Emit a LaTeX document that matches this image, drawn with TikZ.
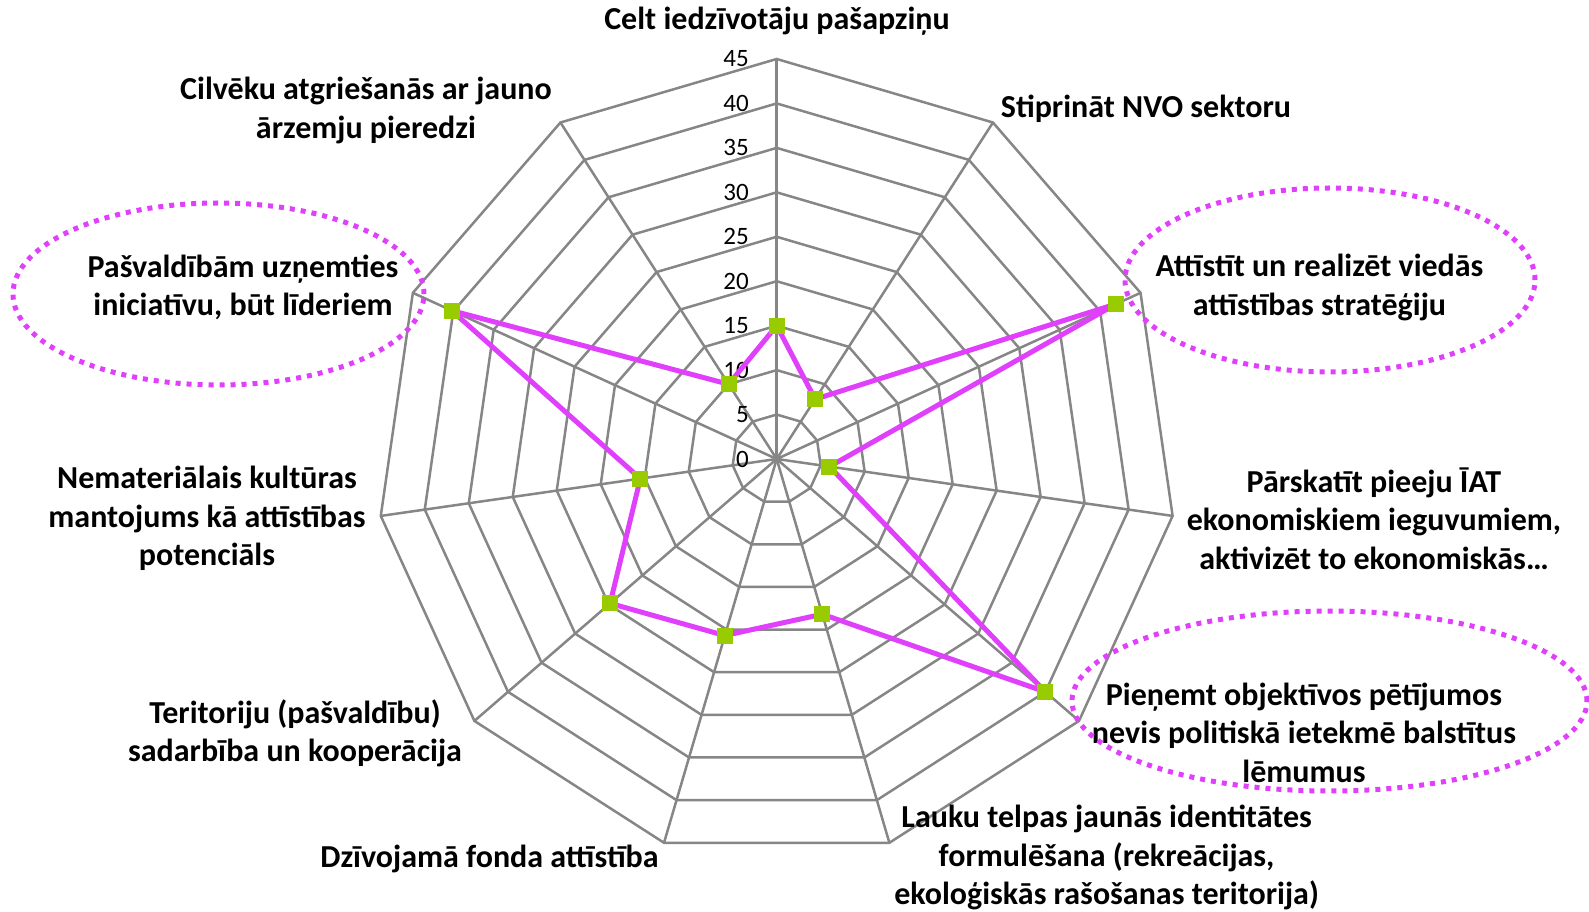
\documentclass[tikz,border=0pt]{standalone}
\usepackage{fontspec}
\setmainfont{Carlito}
\usetikzlibrary{shapes.geometric}
\definecolor{gridgray}{HTML}{868686}
\definecolor{lineMag}{HTML}{E040FB}
\definecolor{markGreen}{HTML}{99CC00}
\begin{document}
\begin{tikzpicture}[x=1pt,y=1pt,
  gridline/.style={draw=gridgray,line width=2.5pt,line join=miter},
  dataline/.style={draw=lineMag,line width=5pt,line join=round},
  marker/.style={rectangle,fill=markGreen,minimum size=16pt,inner sep=0pt},
  ticklabel/.style={anchor=east,inner sep=0pt,font=\fontsize{25}{29}\selectfont},
  catlabel/.style={align=center,inner sep=0pt,font=\bfseries\fontsize{32}{38.5}\selectfont},
  dotring/.style={ellipse,draw=lineMag,line width=5pt,dash pattern=on 5pt off 6pt,inner sep=0pt}]
\useasboundingbox (-776.7,-453) rectangle (812.3,459);
\coordinate (c) at (0,0);
% grid rings
\foreach \k in {1,...,9}{
  \draw[gridline] (90:{\k*44.4444}) \foreach \i in {1,...,10}{ -- ({90-\i*32.72727}:{\k*44.4444})} -- cycle;
}
% spokes
\foreach \i in {0,...,10}{
  \coordinate (o\i) at ({90-\i*32.72727}:400);
  \draw[gridline] (c) -- (o\i);
}
% tick labels
\foreach \k in {0,...,9}{
  \pgfmathtruncatemacro{\val}{\k*5}
  \node[ticklabel] (t\k) at (-27.7,{\k*44.4444}) {\val};
}
% data
\foreach \v [count=\i from 0] in {15,8,42,6,40,18.2,20.7,24.8,15.5,40.2,10}{
  \coordinate (p\i) at ({90-\i*32.72727}:{\v*8.88889});
}
\draw[dataline] (p0) -- (p1) -- (p2) -- (p3) -- (p4) -- (p5) -- (p6) -- (p7) -- (p8) -- (p9) -- (p10) -- cycle;
\foreach \i in {0,...,10}{
  \node[marker] (m\i) at (p\i) {};
}
% category labels
\node[catlabel] (l0) at (0.3,437.5) {Celt iedzīvotāju pašapziņu};
\node[catlabel] (l1) at (369.3,350) {Stiprināt NVO sektoru};
\node[catlabel] (l2) at (542.8,171.5) {Attīstīt un realizēt viedās\\attīstības stratēģiju};
\node[catlabel] (l3) at (597.3,-59.5) {Pārskatīt pieeju ĪAT\\ekonomiskiem ieguvumiem,\\aktivizēt to ekonomiskās…};
\node[catlabel] (l4) at (527.3,-273.5) {Pieņemt objektīvos pētījumos\\nevis politiskā ietekmē balstītus\\lēmumus};
\node[catlabel] (l5) at (329.9,-398.5) {Lauku telpas jaunās identitātes\\formulēšana (rekreācijas,\\ekoloģiskās rašošanas teritorija)};
\node[catlabel] (l6) at (-287.2,-399.5) {Dzīvojamā fonda attīstība};
\node[catlabel] (l7) at (-481.7,-274.5) {Teritoriju (pašvaldību)\\sadarbība un kooperācija};
\node[catlabel] (l8) at (-569.7,-59.5) {Nemateriālais kultūras\\mantojums kā attīstības\\potenciāls};
\node[catlabel] (l9) at (-533.7,171.5) {Pašvaldībām uzņemties\\iniciatīvu, būt līderiem};
\node[catlabel] (l10) at (-410.7,348.5) {Cilvēku atgriešanās ar jauno\\ārzemju pieredzi};
% dotted highlight ellipses
\node[dotring,minimum width=411pt,minimum height=182pt] (e1) at (-558.2,165) {};
\node[dotring,minimum width=410pt,minimum height=184pt] (e2) at (553.3,179) {};
\node[dotring,minimum width=515pt,minimum height=180pt] (e3) at (552.8,-242) {};
\end{tikzpicture}
\end{document}
